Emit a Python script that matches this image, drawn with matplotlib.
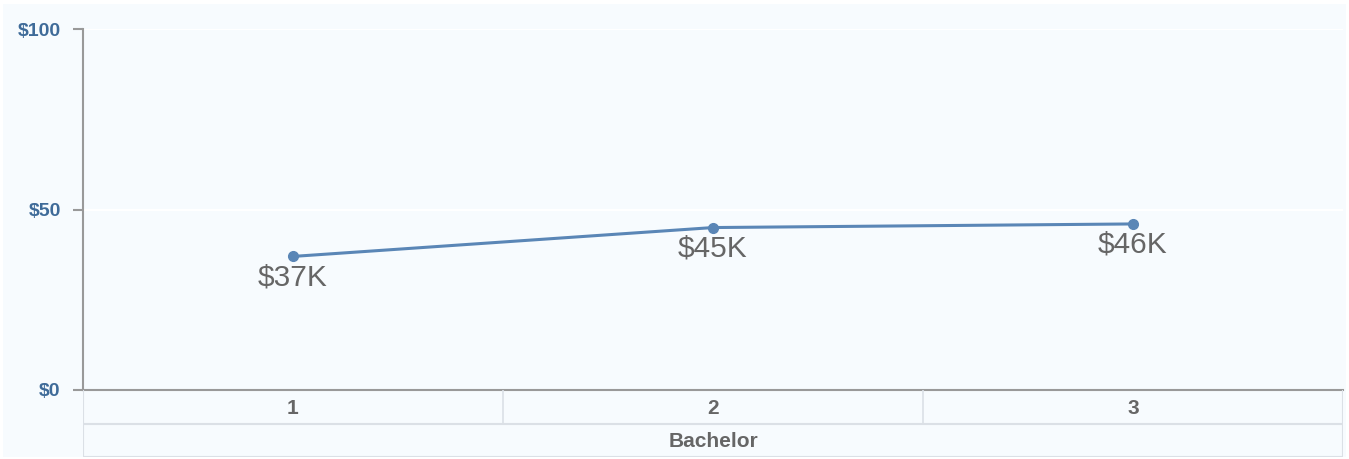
import matplotlib.pyplot as plt
from matplotlib.patches import Rectangle

# data
years = ["1", "2", "3"]
group = "Bachelor"
salary_k = [37, 45, 46]
value_labels = ["$37K", "$45K", "$46K"]
y_ticks = [0, 50, 100]
y_tick_labels = ["$0", "$50", "$100"]

plt.rcParams['font.family'] = ['Liberation Sans', 'DejaVu Sans']

W, H = 1349, 459
fig = plt.figure(figsize=(W / 100, H / 100), dpi=100)
fig.patch.set_facecolor("white")

bg = "#f7fbfe"
fig.patches.append(Rectangle((3 / W, 2 / H), 1343 / W, 453 / H, transform=fig.transFigure,
                             facecolor=bg, edgecolor="none", zorder=-10))

# main plot area
left, right = 83 / W, 1343 / W
bottom, top = 1 - 390 / H, 1 - 29 / H
ax = fig.add_axes([left, bottom, right - left, top - bottom])
ax.set_facecolor(bg)

x = range(len(salary_k))
ax.plot(x, salary_k, color="#5a86b6", lw=2.2, marker="o", ms=7, zorder=3)
for xi, v, lab in zip(x, salary_k, value_labels):
    ax.annotate(lab, (xi, v), xytext=(0, -5), textcoords="offset points",
                ha="center", va="top", fontsize=21.5, color="#666666")

ax.set_xlim(-0.5, len(salary_k) - 0.5)
ax.set_ylim(0, 100)
ax.set_xticks([])
ax.set_yticks(y_ticks)
ax.set_yticklabels(y_tick_labels, fontsize=14, fontweight="bold", color="#3f6b99")
ax.tick_params(axis="y", length=7, width=1.5, color="#999999", pad=9)
for yt in y_ticks[1:]:
    ax.axhline(yt, color="white", lw=1.5, zorder=1)
for s in ["top", "right"]:
    ax.spines[s].set_visible(False)
ax.spines["left"].set_color("#999999")
ax.spines["left"].set_linewidth(1.5)
ax.spines["bottom"].set_color("#999999")
ax.spines["bottom"].set_linewidth(1.5)

# category table under the axis
tb = fig.add_axes([left, 1 - 457 / H, right - left, 67 / H])
tb.set_xlim(-0.5, len(salary_k) - 0.5)
tb.set_ylim(0, 2)
tb.axis("off")
line_c = "#dbe0e6"
tb.plot([-0.5, 2.5], [1, 1], color=line_c, lw=1.5)
tb.plot([-0.5, 2.5], [0, 0], color=line_c, lw=1.5)
tb.plot([-0.5, -0.5], [0, 2], color=line_c, lw=1.5)
tb.plot([2.5, 2.5], [0, 2], color=line_c, lw=1.5)
for i in range(1, len(years)):
    tb.plot([i - 0.5, i - 0.5], [1, 2], color=line_c, lw=1.2)
for i, yr in enumerate(years):
    tb.text(i, 1.45, yr, ha="center", va="center", fontsize=15,
            fontweight="bold", color="#666666")
tb.text(1, 0.47, group, ha="center", va="center", fontsize=15,
        fontweight="bold", color="#666666")

fig.savefig("out.png", dpi=100, facecolor=fig.get_facecolor())
